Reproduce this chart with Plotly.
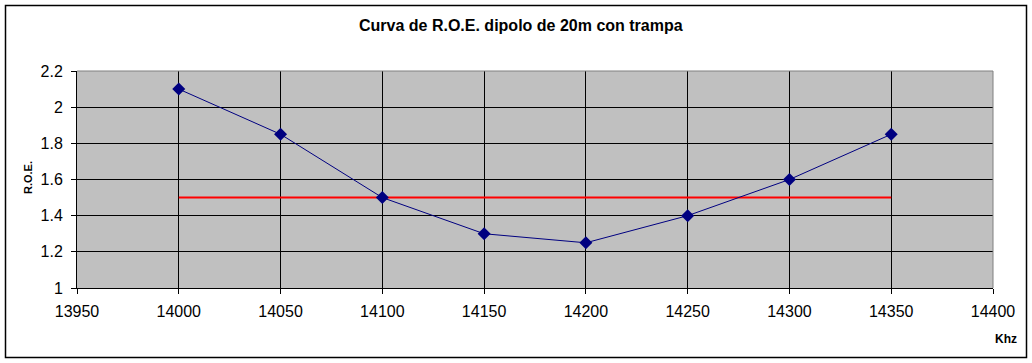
import plotly.graph_objects as go

freq = [14000, 14050, 14100, 14150, 14200, 14250, 14300, 14350]
roe = [2.1, 1.85, 1.5, 1.3, 1.25, 1.4, 1.6, 1.85]
ref_x = [14000, 14350]
ref_y = [1.5, 1.5]

title = "Curva de R.O.E. dipolo de 20m con trampa"
x_title = "Khz"
y_title = "R.O.E."

W, H = 1032, 363
L, R, T, B = 77, 993, 71, 288
pw, ph = R - L, B - T

def px(x):
    return (x - L) / pw

def py(y):
    return (B - y) / ph

fig = go.Figure()
fig.add_trace(go.Scatter(x=ref_x, y=ref_y, mode="lines",
                         line=dict(color="#FF0000", width=2), showlegend=False))
fig.add_trace(go.Scatter(x=freq, y=roe, mode="lines+markers",
                         line=dict(color="#000080", width=1),
                         marker=dict(symbol="diamond", size=10, color="#000080"),
                         showlegend=False))

font = "Liberation Sans, Arial, sans-serif"
fig.update_layout(
    width=W, height=H,
    margin=dict(l=L, r=W - R, t=T, b=H - B),
    paper_bgcolor="white", plot_bgcolor="#C0C0C0",
    font=dict(family=font, size=16, color="black"),
    xaxis=dict(range=[13950, 14400], tickmode="linear", tick0=13950, dtick=50,
               tickformat="d", ticklabelstandoff=4,
               showgrid=True, gridcolor="black", gridwidth=1,
               showline=True, linecolor="black", linewidth=1,
               ticks="outside", ticklen=5, tickcolor="black",
               tickfont=dict(size=16), zeroline=False, fixedrange=True),
    yaxis=dict(range=[1, 2.2], tickmode="linear", tick0=1, dtick=0.2,
               ticklabelstandoff=5,
               showgrid=True, gridcolor="black", gridwidth=1,
               showline=True, linecolor="black", linewidth=1,
               ticks="outside", ticklen=5, tickcolor="black",
               tickfont=dict(size=16), zeroline=False, fixedrange=True),
    shapes=[
        dict(type="rect", xref="paper", yref="paper",
             x0=px(5.5), x1=px(1026.5), y0=py(357.5), y1=py(5.5),
             line=dict(color="black", width=1.5), layer="above"),
        dict(type="line", xref="paper", yref="paper", x0=0, x1=1, y0=1, y1=1,
             line=dict(color="#808080", width=1), layer="above"),
        dict(type="line", xref="paper", yref="paper", x0=1, x1=1, y0=0, y1=1,
             line=dict(color="#808080", width=1), layer="above"),
    ],
    annotations=[
        dict(text="<b>" + title + "</b>", xref="paper", yref="paper", x=px(521), y=py(26),
             showarrow=False, font=dict(size=16, family=font),
             xanchor="center", yanchor="middle"),
        dict(text="<b>" + y_title + "</b>", xref="paper", yref="paper",
             x=px(28), y=py(178), textangle=-90, showarrow=False,
             font=dict(size=11, family=font), xanchor="center", yanchor="middle"),
        dict(text="<b>" + x_title + "</b>", xref="paper", yref="paper",
             x=px(1006), y=py(339), showarrow=False,
             font=dict(size=12, family=font), xanchor="center", yanchor="middle"),
    ],
)

fig.write_html("out.html", config={"displayModeBar": False},
               post_script="document.body.style.margin='0';document.body.style.padding='0';")
